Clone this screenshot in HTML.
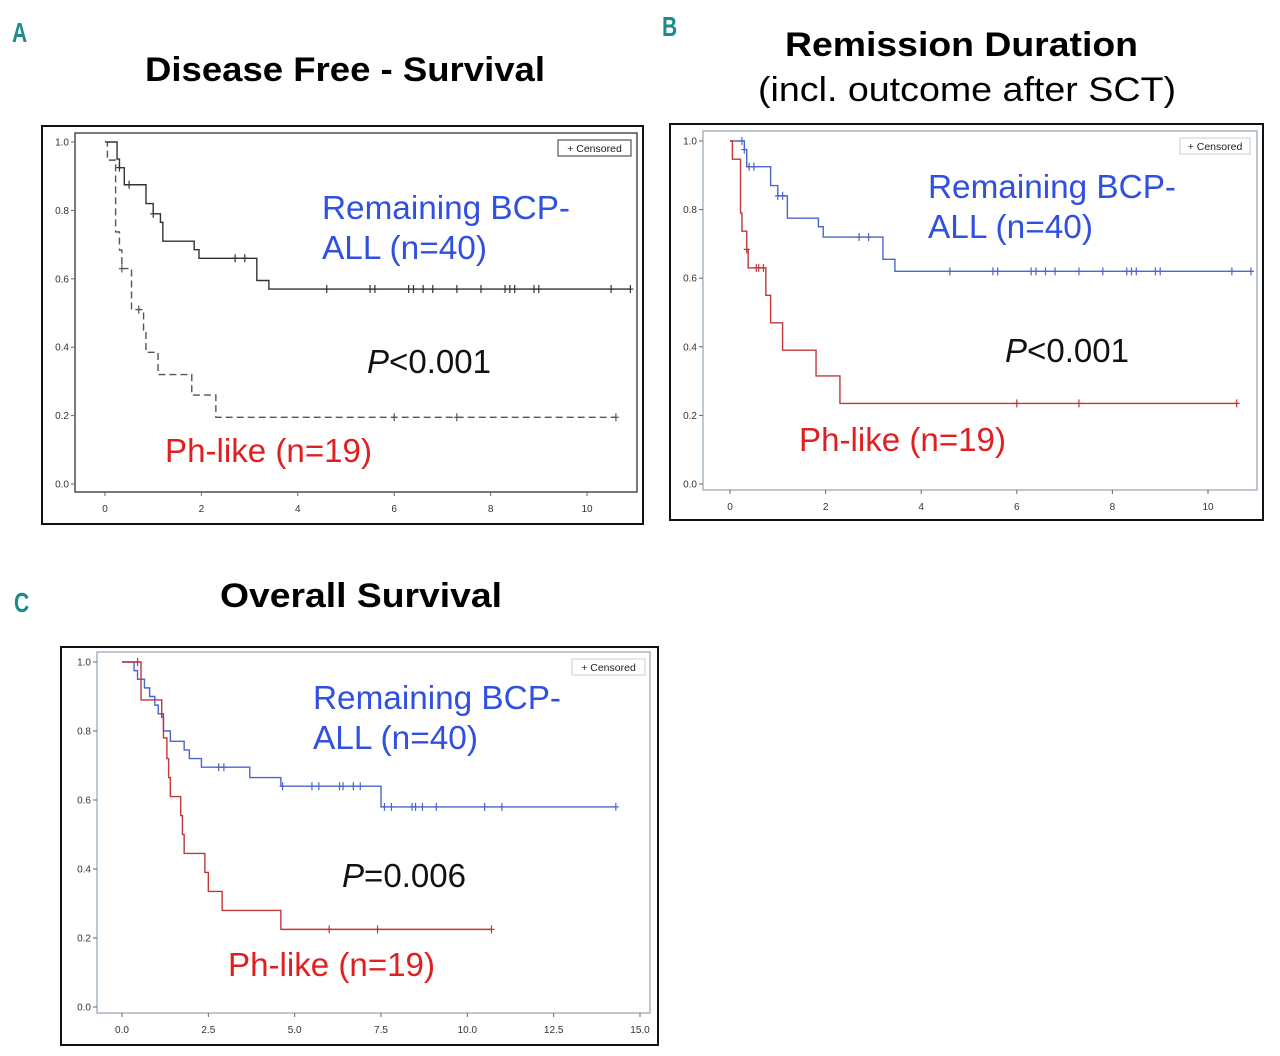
<!DOCTYPE html>
<html><head><meta charset="utf-8"><style>
body{margin:0;background:#fff;width:1280px;height:1056px;overflow:hidden;font-family:"Liberation Sans",sans-serif}
svg{position:absolute;left:0;top:0}
</style></head><body>
<svg id="s" width="1280" height="1056" xmlns="http://www.w3.org/2000/svg">
<g font-family="Liberation Sans, sans-serif">
<text x="12" y="42" font-size="28" font-weight="bold" fill="#1a8c8c" transform="scale(0.75,1)" transform-origin="12 42">A</text>
<text x="662" y="36" font-size="28" font-weight="bold" fill="#1a8c8c" transform="scale(0.75,1)" transform-origin="662 36">B</text>
<text x="14" y="612" font-size="28" font-weight="bold" fill="#1a8c8c" transform="scale(0.75,1)" transform-origin="14 612">C</text>
<text x="145" y="81" font-size="34" font-weight="bold" textLength="400" lengthAdjust="spacingAndGlyphs">Disease Free - Survival</text>
<text x="785" y="56" font-size="34" font-weight="bold" textLength="353" lengthAdjust="spacingAndGlyphs">Remission Duration</text>
<text x="758" y="101" font-size="34" textLength="418" lengthAdjust="spacingAndGlyphs">(incl. outcome after SCT)</text>
<text x="220" y="607" font-size="34" font-weight="bold" textLength="282" lengthAdjust="spacingAndGlyphs">Overall Survival</text>
</g>
<g id="plots"></g>
</svg>
<script>
// Panel A data
const aBcpT=[0,0.25,0.3,0.4,0.85,1.0,1.15,1.2,1.85,1.95,3.15,3.4];
const aBcpS=[1,0.95,0.925,0.875,0.82,0.79,0.765,0.71,0.685,0.66,0.595,0.57];
const aBcpEnd=10.9;
const aBcpC=[0.3,0.5,1.0,2.7,2.9,4.6,5.5,5.6,6.3,6.4,6.6,6.8,7.3,7.8,8.3,8.4,8.5,8.9,9.0,10.5,10.9];
const aPhT=[0,0.05,0.22,0.3,0.35,0.55,0.8,0.85,1.1,1.8,2.3];
const aPhS=[1,0.947,0.737,0.684,0.63,0.51,0.45,0.385,0.32,0.26,0.195];
const aPhEnd=10.6;
const aPhC=[0.35,0.7,6.0,7.3,10.6];
// Panel B data
const bBcpT=[0,0.3,0.35,0.85,1.0,1.2,1.85,1.95,3.2,3.45];
const bBcpS=[1,0.975,0.925,0.87,0.84,0.775,0.75,0.72,0.655,0.62];
const bBcpEnd=10.9;
const bBcpC=[0.25,0.3,0.4,0.5,1.0,1.1,2.7,2.9,4.6,5.5,5.6,6.3,6.4,6.6,6.8,7.3,7.8,8.3,8.4,8.5,8.9,9.0,10.5,10.9];
const bPhT=[0,0.05,0.22,0.25,0.35,0.38,0.75,0.85,1.1,1.8,2.3];
const bPhS=[1,0.947,0.79,0.737,0.684,0.63,0.55,0.47,0.39,0.315,0.235];
const bPhEnd=10.6;
const bPhC=[0.35,0.55,0.6,0.7,6.0,7.3,10.6];
// Panel C data
const cBcpT=[0,0.35,0.45,0.65,0.8,0.95,1.05,1.2,1.4,1.8,1.95,2.3,3.7,4.6,7.5];
const cBcpS=[1,0.975,0.95,0.925,0.9,0.875,0.85,0.8,0.77,0.745,0.72,0.695,0.665,0.64,0.58];
const cBcpEnd=14.3;
const cBcpC=[2.8,2.95,4.65,5.5,5.7,6.3,6.4,6.7,6.9,7.6,7.8,8.4,8.5,8.7,9.1,10.5,11.0,14.3];
const cPhT=[0,0.55,1.15,1.2,1.3,1.35,1.4,1.7,1.75,1.8,2.4,2.5,2.9,4.6];
const cPhS=[1,0.89,0.84,0.78,0.72,0.665,0.61,0.555,0.5,0.445,0.39,0.335,0.28,0.225];
const cPhEnd=10.7;
const cPhC=[0.45,6.0,7.4,10.7];
const xTicksAB=[0,2,4,6,8,10];
const xTicksC=["0.0","2.5","5.0","7.5","10.0","12.5","15.0"];
const yTicks=["0.0","0.2","0.4","0.6","0.8","1.0"];

const NS="http://www.w3.org/2000/svg";
const root=document.getElementById('plots');
function mk(tag,attrs,parent){const e=document.createElementNS(NS,tag);for(const k in attrs)e.setAttribute(k,attrs[k]);(parent||root).appendChild(e);return e;}
function txt(x,y,s,size,fill,anchor,parent,len){const o={x:x,y:y,'font-size':size,fill:fill,'text-anchor':anchor||'start','font-family':'Liberation Sans, sans-serif'};if(len){o.textLength=len;o.lengthAdjust='spacingAndGlyphs';}const t=mk('text',o,parent);t.textContent=s;return t;}

function panel(p){
  const g=mk('g',{});
  
  
  const ob=mk('rect',{x:p.outer[0],y:p.outer[1],width:p.outer[2],height:p.outer[3],fill:'none',stroke:'#111','stroke-width':2},g);
  
  
  const ib=mk('rect',{x:p.inner[0],y:p.inner[1],width:p.inner[2]-p.inner[0],height:p.inner[3]-p.inner[1],fill:'none',stroke:p.frameColor,'stroke-width':1.3},g);
  
  
  const X=v=>p.x0+(v-p.xmin)*(p.x1-p.x0)/(p.xmax-p.xmin);
  const Y=v=>p.y0+(v)*(p.y1-p.y0);
  yTicks.forEach(lbl=>{const v=parseFloat(lbl);const yy=Y(v);
    mk('line',{x1:p.inner[0]-4,x2:p.inner[0],y1:yy,y2:yy,stroke:'#666'},g);
    const t=txt(p.inner[0]-6,yy+3.5,lbl,10,'#333','end',g);
    
    });
  p.xt.forEach(lbl=>{const v=parseFloat(lbl);const xx=X(v);
    mk('line',{x1:xx,x2:xx,y1:p.inner[3],y2:p.inner[3]+4,stroke:'#666'},g);
    const t=txt(xx,p.inner[3]+20,lbl,10,'#333','middle',g);
    
    });
  const L=p.leg;
  const lr=mk('rect',{x:L[0],y:L[1],width:L[2],height:16,fill:'#fff',stroke:p.legStroke},g);
  
  
  txt(L[0]+L[2]/2,L[1]+12,'+ Censored',10.5,'#222','middle',g);
  p.series.forEach(s=>{
    let d='M'+X(s.t[0])+','+Y(s.s[0]);
    for(let i=1;i<s.t.length;i++){d+=' H'+X(s.t[i])+' V'+Y(s.s[i]);}
    d+=' H'+X(s.end);
    const path=mk('path',{d:d,fill:'none',stroke:s.color,'stroke-width':1.4,'stroke-dasharray':s.dash||'none'},g);
    
    
    s.c.forEach(ct=>{let sv=s.s[0];for(let i=0;i<s.t.length;i++){if(s.t[i]<=ct)sv=s.s[i];}
      const cx=X(ct),cy=Y(sv);
      const m=mk('path',{d:'M'+cx+','+(cy-4)+' V'+(cy+4)+' M'+(cx-3)+','+cy+' H'+(cx+3),stroke:s.color,'stroke-width':1.2},g);
      
      });
  });
  const a=p.ann;
  let t=txt(a.bx,a.by,'Remaining BCP-',33,'#3050e0','start',g,248);
  
  t=txt(a.bx,a.by+40,'ALL (n=40)',33,'#3050e0','start',g,165);
  
  t=mk('text',{x:a.px,y:a.py,'font-size':33,fill:'#111','font-family':'Liberation Sans, sans-serif',textLength:124,lengthAdjust:'spacingAndGlyphs'},g);
  t.innerHTML='<tspan font-style="italic">P</tspan>'+a.pv;
  
  t=txt(a.rx,a.ry,'Ph-like (n=19)',33,'#e02020','start',g,207);
  
}

panel({id:'a',outer:[42,126,601,398],inner:[75,133,637,492],frameColor:'#333',x0:105,x1:587,xmin:0,xmax:10,y0:484,y1:142,xt:xTicksAB,leg:[558,140,73],legStroke:'#333',
  series:[{name:'bcp',t:aBcpT,s:aBcpS,end:aBcpEnd,c:aBcpC,color:'#333'},{name:'ph-like',t:aPhT,s:aPhS,end:aPhEnd,c:aPhC,color:'#555',dash:'7,4'}],
  ann:{bx:322,by:219,px:367,py:373,pv:'&lt;0.001',rx:165,ry:462}});
panel({id:'b',outer:[670,124,593,396],inner:[703,131,1257,490],frameColor:'#9ab',x0:730,x1:1208,xmin:0,xmax:10,y0:484,y1:141,xt:xTicksAB,leg:[1180,138,70],legStroke:'#ccc',
  series:[{name:'bcp',t:bBcpT,s:bBcpS,end:bBcpEnd,c:bBcpC,color:'#4a66cc'},{name:'ph-like',t:bPhT,s:bPhS,end:bPhEnd,c:bPhC,color:'#c03838'}],
  ann:{bx:928,by:198,px:1005,py:362,pv:'&lt;0.001',rx:799,ry:451}});
panel({id:'c',outer:[61,647,597,398],inner:[97,652,650,1013],frameColor:'#9ab',x0:122,x1:640,xmin:0,xmax:15,y0:1007,y1:662,xt:xTicksC,leg:[572,659,73],legStroke:'#ccc',
  series:[{name:'bcp',t:cBcpT,s:cBcpS,end:cBcpEnd,c:cBcpC,color:'#4a66cc'},{name:'ph-like',t:cPhT,s:cPhS,end:cPhEnd,c:cPhC,color:'#c03838'}],
  ann:{bx:313,by:709,px:342,py:887,pv:'=0.006',rx:228,ry:976}});
</script>
</body></html>
